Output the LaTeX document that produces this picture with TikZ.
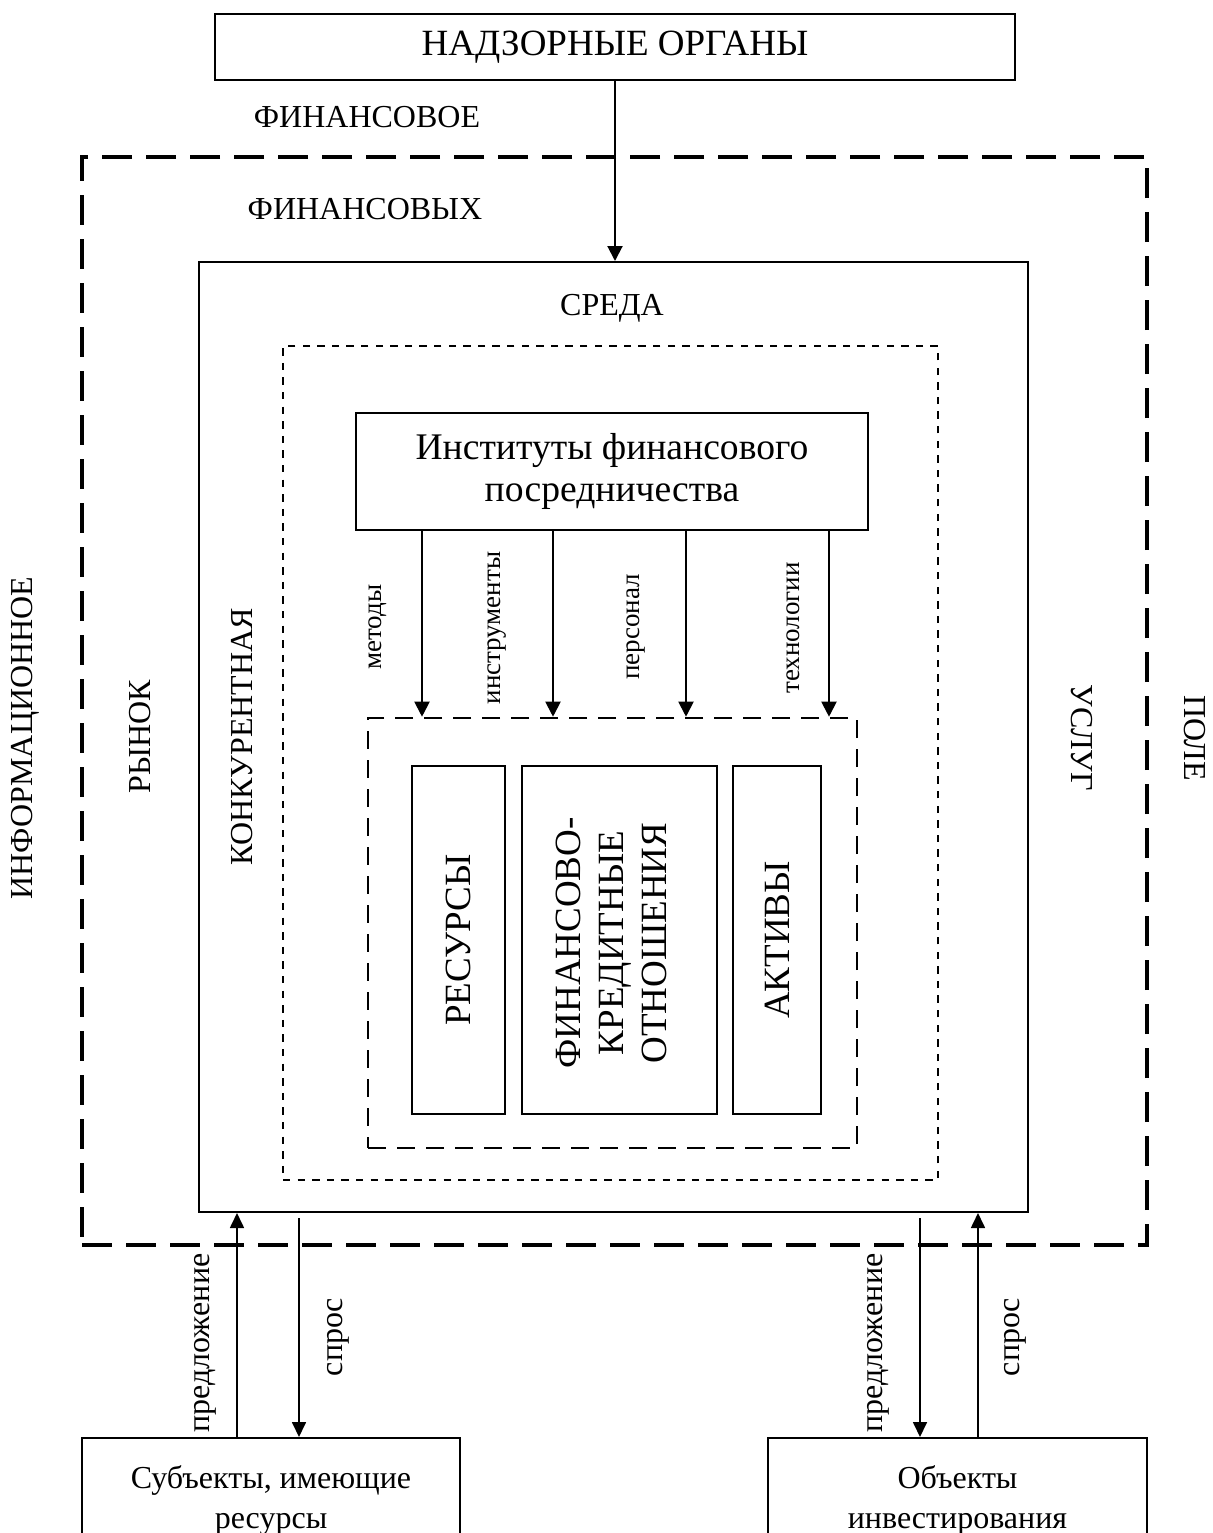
\documentclass[tikz,border=0pt]{standalone}
\usepackage{fontspec}
\setmainfont{Liberation Serif}
\usetikzlibrary{arrows.meta}
\begin{document}
\begin{tikzpicture}[x=0.5pt,y=-0.5pt,
  box/.style={draw, line width=1pt, inner sep=0pt, align=center},
  outerframe/.style={draw, line width=2.2pt, dash pattern=on 15pt off 7pt, inner sep=0pt},
  dotframe/.style={draw, line width=1pt, dash pattern=on 3.7pt off 3.6pt, inner sep=0pt},
  innerframe/.style={draw, line width=1.3pt, dash pattern=on 9pt off 5.5pt, inner sep=0pt},
  caption/.style={inner sep=0pt, font=\fontsize{16}{19}\selectfont},
  small/.style={inner sep=0pt, font=\fontsize{13.5}{16}\selectfont, rotate=90},
  flowlabel/.style={inner sep=0pt, font=\fontsize{16}{19}\selectfont, rotate=90},
  arr/.style={-{Triangle[length=7.5pt,width=7.5pt]}, line width=1pt},
  thinarr/.style={-{Triangle[length=7.5pt,width=7pt]}, line width=0.85pt}]
\useasboundingbox (0,0) rectangle (1213,1533);

% frames, from outside in
\node[outerframe, minimum width=532.5pt, minimum height=544pt] (field) at (614.5,701) {};
\node[box, minimum width=414.5pt, minimum height=475pt] (market) at (613.5,737) {};
\node[dotframe, minimum width=327.5pt, minimum height=417pt] (env) at (610.5,763) {};
\node[innerframe, minimum width=244.5pt, minimum height=215pt] (core) at (612.5,933) {};

% boxes
\node[box, minimum width=400pt, minimum height=33pt, font=\fontsize{18.5}{21}\selectfont] (super) at (615,47) {НАДЗОРНЫЕ ОРГАНЫ};
\node[box, minimum width=256pt, minimum height=58.5pt, font=\fontsize{18.8}{21}\selectfont] (inst) at (612,471.5) {Институты финансового\\посредничества};
\node[box, minimum width=46.5pt, minimum height=174pt] (res) at (458.5,940) {};
\node[box, minimum width=97.5pt, minimum height=174pt] (fko) at (619.5,940) {};
\node[box, minimum width=44pt, minimum height=174pt] (akt) at (777,940) {};
\node[inner sep=0pt, rotate=90, font=\fontsize{18.5}{21.5}\selectfont] (restxt) at (res) {РЕСУРСЫ};
\node[inner sep=0pt, rotate=90, align=center, font=\fontsize{18.5}{21.5}\selectfont] (fkotxt) at (611,943) {ФИНАНСОВО-\\КРЕДИТНЫЕ\\ОТНОШЕНИЯ};
\node[inner sep=0pt, rotate=90, font=\fontsize{18.5}{21.5}\selectfont] (akttxt) at (akt) {АКТИВЫ};
\node[box, minimum width=189pt, minimum height=62pt, font=\fontsize{16}{20}\selectfont] (subj) at (271,1500) {Субъекты, имеющие\\ресурсы};
\node[box, minimum width=189.5pt, minimum height=62pt, font=\fontsize{16}{20}\selectfont] (obj) at (957.5,1500) {Объекты\\инвестирования};

% frame captions
\node[caption] (c1) at (367,117) {ФИНАНСОВОЕ};
\node[caption] (c2) at (365,209) {ФИНАНСОВЫХ};
\node[caption] (c3) at (612,308) {СРЕДА};
\node[caption, rotate=90] (c4) at (25,738) {ИНФОРМАЦИОННОЕ};
\node[caption, rotate=90] (c5) at (140,737) {РЫНОК};
\node[caption, rotate=90] (c6) at (242,737) {КОНКУРЕНТНАЯ};
\node[caption, rotate=-90] (c7) at (1082,738) {УСЛУГ};
\node[caption, rotate=-90] (c8) at (1195,738) {ПОЛЕ};

% supervision arrow
\draw[arr] (super.south) -- (super.south |- market.north);

% flows from the institutes
\coordinate (m1) at (422,0);
\coordinate (m2) at (553,0);
\coordinate (m3) at (686,0);
\coordinate (m4) at (829,0);
\foreach \m in {m1,m2,m3,m4}
  \draw[arr] (\m |- inst.south) -- (\m |- core.north);
\node[small] (l1) at (378,627) {методы};
\node[small] (l2) at (497,628) {инструменты};
\node[small] (l3) at (636,627) {персонал};
\node[small] (l4) at (793,628) {технологии};

% supply and demand
\coordinate (b1) at (237,0);
\coordinate (b2) at (299,0);
\coordinate (b3) at (920,0);
\coordinate (b4) at (978,0);
\draw[thinarr] (b1 |- subj.north) -- (b1 |- market.south);
\draw[thinarr, shorten <=2.5pt] (b2 |- market.south) -- (b2 |- subj.north);
\draw[thinarr, shorten <=2.5pt] (b3 |- market.south) -- (b3 |- obj.north);
\draw[thinarr] (b4 |- obj.north) -- (b4 |- market.south);
\node[flowlabel] (f1) at (205,1343) {предложение};
\node[flowlabel] (f2) at (338,1337) {спрос};
\node[flowlabel] (f3) at (878,1343) {предложение};
\node[flowlabel] (f4) at (1015,1337) {спрос};
\end{tikzpicture}
\end{document}
